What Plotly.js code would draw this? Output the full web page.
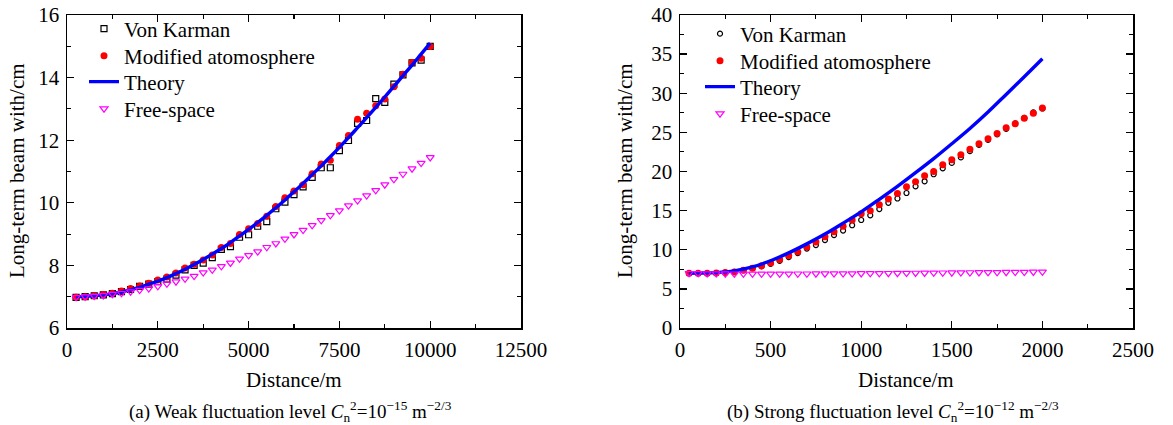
<!DOCTYPE html>
<html>
<head>
<meta charset="utf-8">
<script src="https://cdn.plot.ly/plotly-3.0.1.min.js"></script>
<style>html,body{margin:0;padding:0;background:#fff;}#chart{width:1173px;height:425px;}</style>
</head>
<body>
<div id="chart"></div>
<script>
// ---------- Panel (a): weak fluctuation ----------
const distA = [250,500,750,1000,1250,1500,1750,2000,2250,2500,2750,3000,3250,3500,3750,4000,4250,4500,4750,5000,
               5250,5500,5750,6000,6250,6500,6750,7000,7250,7500,7750,8000,8250,8500,8750,9000,9250,9500,9750,10000];
const vonKarmanA = [6.98,7.0,7.03,7.06,7.1,7.16,7.23,7.33,7.4,7.48,7.56,7.69,7.86,8.0,8.07,8.25,8.51,8.6,8.9,8.98,
                    9.25,9.4,9.81,10.02,10.26,10.51,10.81,11.12,11.12,11.67,11.99,12.54,12.63,13.33,13.21,13.79,14.09,14.47,14.56,15.0];
const modifiedA = [6.98,7.0,7.03,7.07,7.11,7.18,7.26,7.34,7.43,7.53,7.63,7.76,7.92,8.04,8.17,8.33,8.57,8.7,8.99,9.17,
                   9.34,9.57,9.88,10.16,10.38,10.58,10.93,11.24,11.36,11.83,12.15,12.67,12.86,13.1,13.32,13.71,14.11,14.48,14.62,14.99];
const theoryA = [7.0,7.01,7.03,7.06,7.1,7.15,7.22,7.3,7.4,7.5,7.61,7.74,7.88,8.03,8.19,8.36,8.54,8.73,8.94,9.15,
                 9.37,9.6,9.84,10.09,10.35,10.62,10.9,11.18,11.47,11.77,12.08,12.4,12.72,13.05,13.38,13.72,14.06,14.4,14.75,15.1];
const freeSpaceA = [6.98,7.0,7.02,7.04,7.08,7.11,7.16,7.21,7.26,7.33,7.41,7.48,7.57,7.66,7.77,7.86,7.97,8.08,8.21,8.32,
                    8.44,8.58,8.7,8.85,8.99,9.13,9.28,9.44,9.6,9.75,9.91,10.07,10.23,10.4,10.58,10.75,10.92,11.09,11.27,11.45];

// ---------- Panel (b): strong fluctuation ----------
const distB = [50,100,150,200,250,300,350,400,450,500,550,600,650,700,750,800,850,900,950,1000,
               1050,1100,1150,1200,1250,1300,1350,1400,1450,1500,1550,1600,1650,1700,1750,1800,1850,1900,1950,2000];
const vonKarmanB = [7.0,7.0,7.0,7.03,7.08,7.18,7.38,7.65,7.88,8.2,8.59,9.06,9.57,10.15,10.6,11.24,11.88,12.45,13.13,13.8,
                    14.4,15.2,16.0,16.55,17.25,18.1,18.75,19.65,20.4,21.1,21.8,22.6,23.4,24.05,24.75,25.45,26.15,26.85,27.55,28.05];
const modifiedB = [7.0,7.0,7.0,7.02,7.08,7.17,7.38,7.65,7.95,8.3,8.75,9.25,9.75,10.35,11.0,11.65,12.3,13.0,13.8,14.6,
                   15.0,15.75,16.5,17.2,18.05,18.7,19.45,20.0,20.85,21.5,22.15,22.85,23.55,24.2,24.85,25.6,26.1,26.8,27.45,28.1];
const theoryDistB = [50,100,200,300,400,500,600,700,800,900,1000,1100,1200,1300,1400,1500,1600,1700,1800,1900,2000];
const theoryB = [7.0,7.02,7.08,7.3,7.8,8.6,9.6,10.75,12.0,13.4,14.85,16.45,18.1,19.85,21.65,23.55,25.5,27.6,29.85,32.1,34.4];
const freeSpaceB = [7.0,6.98,6.96,6.95,6.94,6.93,6.92,6.92,6.92,6.92,6.92,6.92,6.93,6.93,6.94,6.94,6.95,6.96,6.96,6.97,
                    6.98,6.99,7.0,7.01,7.02,7.03,7.04,7.05,7.06,7.07,7.08,7.09,7.1,7.11,7.12,7.13,7.14,7.15,7.16,7.18];

const seriesNames = ['Von Karman','Modified atomosphere','Theory','Free-space'];
const captionA = '(a) Weak fluctuation level <i>C</i><sub>n</sub><sup>2</sup>=10<sup>\u221215</sup> m<sup>\u22122/3</sup>';
const captionB = '(b) Strong fluctuation level <i>C</i><sub>n</sub><sup>2</sup>=10<sup>\u221212</sup> m<sup>\u22122/3</sup>';
const xTitle = 'Distance/m';
const yTitle = 'Long-term beam with/cm';

const FONT = 'Liberation Serif, Times New Roman, Times, serif';
const W = 1173, H = 425;
const px = v => v / W, py = v => 1 - v / H;

const styles = {
  vkA:  {mode: 'markers', marker: {symbol: 'square-open', size: 6, color: '#000', line: {width: 1.2}}},
  vkB:  {mode: 'markers', marker: {symbol: 'circle-open', size: 5, color: '#000', line: {width: 1.2}}},
  mod:  {mode: 'markers', marker: {symbol: 'circle', size: 7, color: '#ff0000'}},
  th:   {mode: 'lines', line: {color: '#0000ff', width: 3.4, shape: 'spline'}},
  fs:   {mode: 'markers', marker: {symbol: 'triangle-down-open', size: 7, color: '#ff00ff', line: {width: 1.2}}}
};

function tr(x, y, name, style, ax, leg) {
  return Object.assign({x: x, y: y, name: name, type: 'scatter', xaxis: ax[0], yaxis: ax[1], legend: leg}, style);
}

const traces = [
  tr(distA, vonKarmanA, seriesNames[0], styles.vkA, ['x', 'y'], 'legend'),
  tr(distA, modifiedA, seriesNames[1], styles.mod, ['x', 'y'], 'legend2'),
  tr(distA, theoryA, seriesNames[2], styles.th, ['x', 'y'], 'legend3'),
  tr(distA, freeSpaceA, seriesNames[3], styles.fs, ['x', 'y'], 'legend4'),
  tr(distB, vonKarmanB, seriesNames[0], styles.vkB, ['x2', 'y2'], 'legend5'),
  tr(distB, modifiedB, seriesNames[1], styles.mod, ['x2', 'y2'], 'legend6'),
  tr(theoryDistB, theoryB, seriesNames[2], styles.th, ['x2', 'y2'], 'legend7'),
  tr(distB, freeSpaceB, seriesNames[3], styles.fs, ['x2', 'y2'], 'legend8')
];

function axis(domain, range, dtick, minorDtick, anchor) {
  return {
    domain: domain, range: range, dtick: dtick, tick0: range[0], tickformat: 'd', anchor: anchor,
    ticks: 'inside', ticklen: 7, tickwidth: 1.3, tickcolor: '#000', ticklabelstandoff: 2,
    minor: {ticks: 'inside', ticklen: 4, tickwidth: 1.1, tickcolor: '#000', dtick: minorDtick, showgrid: false},
    showline: true, linecolor: '#000', linewidth: 1.5, mirror: 'allticks',
    showgrid: false, zeroline: false, automargin: false,
    tickfont: {family: FONT, size: 21, color: '#000'}
  };
}

function leg(xPix, yPix) {
  return {x: px(xPix), y: py(yPix), xanchor: 'left', yanchor: 'middle', bgcolor: 'rgba(0,0,0,0)',
          font: {family: FONT, size: 21, color: '#000'}, itemwidth: 30, borderwidth: 0};
}

const legA = 84, legB = 700;
const rowsA = [29, 56, 82, 109], rowsB = [34, 61, 87, 114];

function ann(text, x, y, size, angle) {
  return {text: text, x: px(x), y: py(y), xref: 'paper', yref: 'paper', showarrow: false,
          xanchor: 'center', yanchor: 'middle', textangle: angle || 0,
          font: {family: FONT, size: size, color: '#000'}};
}

const layout = {
  width: W, height: H,
  margin: {l: 0, r: 0, t: 0, b: 0},
  paper_bgcolor: '#fff', plot_bgcolor: '#fff',
  font: {family: FONT, color: '#000'},
  showlegend: true,
  xaxis: axis([px(67), px(521)], [0, 12500], 2500, 1250, 'y'),
  yaxis: axis([py(328), py(15)], [6, 16], 2, 1, 'x'),
  xaxis2: axis([px(680), px(1133)], [0, 2500], 500, 250, 'y2'),
  yaxis2: axis([py(328), py(15)], [0, 40], 5, 2.5, 'x2'),
  legend: leg(legA, rowsA[0]), legend2: leg(legA, rowsA[1]), legend3: leg(legA, rowsA[2]), legend4: leg(legA, rowsA[3]),
  legend5: leg(legB, rowsB[0]), legend6: leg(legB, rowsB[1]), legend7: leg(legB, rowsB[2]), legend8: leg(legB, rowsB[3]),
  annotations: [
    ann(xTitle, 294, 380, 21),
    ann(xTitle, 906, 380, 21),
    ann(yTitle, 17, 171, 21, -90),
    ann(yTitle, 625, 171, 21, -90),
    ann(captionA, 290, 411, 19),
    ann(captionB, 893, 411, 19)
  ]
};

Plotly.newPlot('chart', traces, layout, {staticPlot: true, displayModeBar: false});
</script>
</body>
</html>
